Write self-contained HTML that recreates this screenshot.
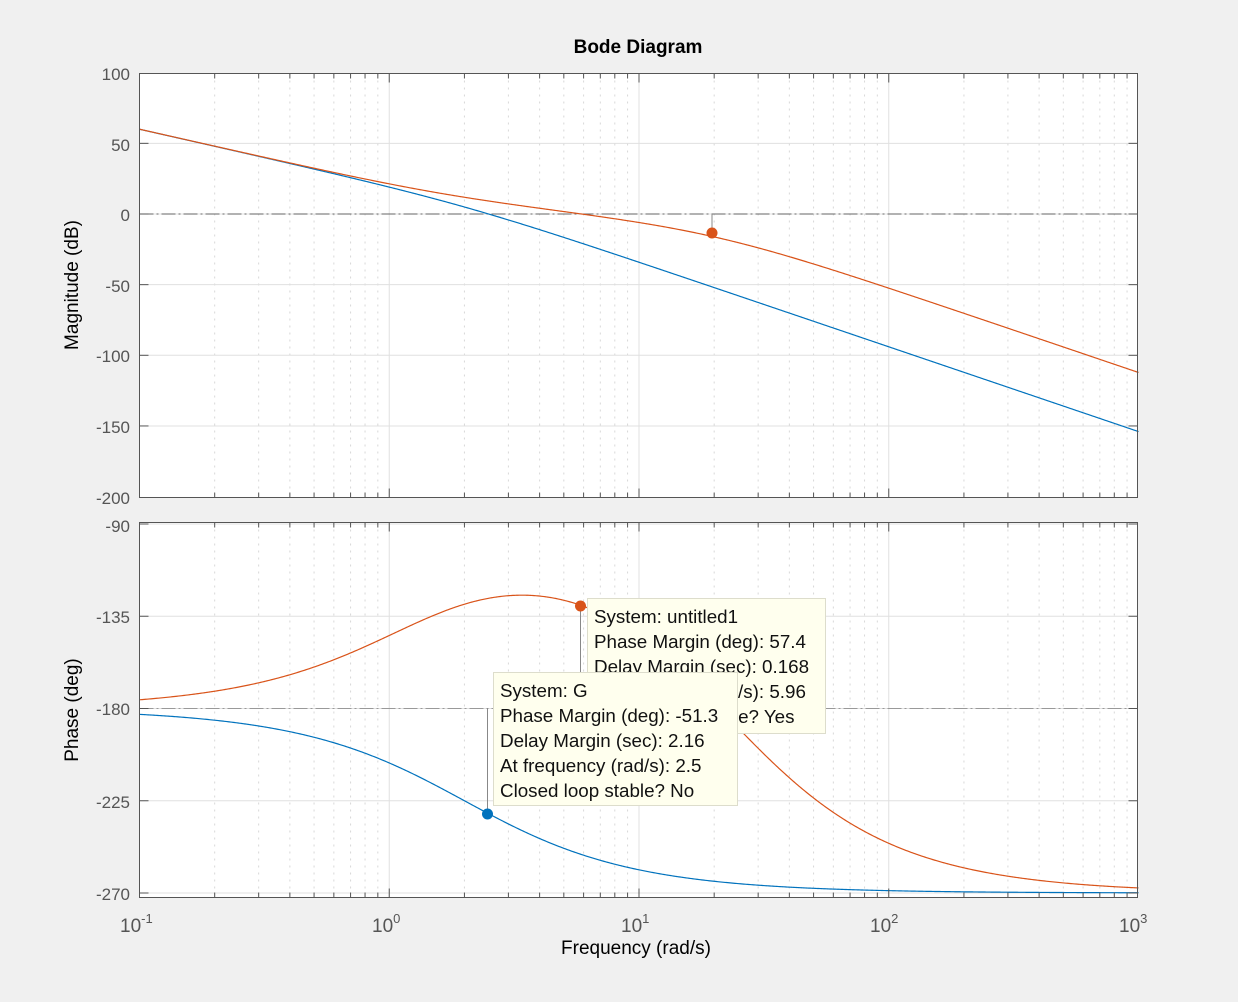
<!DOCTYPE html>
<html><head><meta charset="utf-8"><style>
html,body{margin:0;padding:0;background:#f0f0f0;}
svg{display:block;font-family:"Liberation Sans",Helvetica,sans-serif;}
</style></head><body>
<svg id="s" width="1238" height="1002" viewBox="0 0 1238 1002" xmlns="http://www.w3.org/2000/svg">
<rect x="0" y="0" width="1238" height="1002" fill="#f0f0f0"/>
<text x="638" y="53" text-anchor="middle" font-size="19" font-weight="bold" fill="#000">Bode Diagram</text>
<rect x="139.5" y="73.5" width="998" height="424" fill="#fff"/>
<rect x="139.5" y="522.5" width="998" height="375" fill="#fff"/>
<g id="grid"></g>
<g id="curves"></g>
<g id="ticks"></g>
<rect x="139.5" y="73.5" width="998" height="424" fill="none" stroke="#555" stroke-width="1"/>
<rect x="139.5" y="522.5" width="998" height="375" fill="none" stroke="#555" stroke-width="1"/>
<g font-size="17" fill="#555" text-anchor="end">
<text x="130" y="80">100</text><text x="130" y="151">50</text><text x="130" y="221">0</text>
<text x="130" y="292">-50</text><text x="130" y="362">-100</text><text x="130" y="433">-150</text><text x="130" y="504">-200</text>
<text x="130" y="532">-90</text><text x="130" y="623">-135</text><text x="130" y="715">-180</text>
<text x="130" y="808">-225</text><text x="130" y="900">-270</text>
</g>
<g font-size="19" fill="#555">
<text x="120" y="932">10<tspan font-size="13" dy="-9">-1</tspan></text>
<text x="372" y="932">10<tspan font-size="13" dy="-9">0</tspan></text>
<text x="621" y="932">10<tspan font-size="13" dy="-9">1</tspan></text>
<text x="870" y="932">10<tspan font-size="13" dy="-9">2</tspan></text>
<text x="1119" y="932">10<tspan font-size="13" dy="-9">3</tspan></text>
</g>
<text x="636" y="954" text-anchor="middle" font-size="19" fill="#000">Frequency  (rad/s)</text>
<text transform="translate(78,285) rotate(-90)" text-anchor="middle" font-size="19" fill="#000">Magnitude (dB)</text>
<text transform="translate(78,710) rotate(-90)" text-anchor="middle" font-size="19" fill="#000">Phase (deg)</text>
<g id="tips"></g>
</svg>
<script>
const NS="http://www.w3.org/2000/svg";
function el(p,t,a){const e=document.createElementNS(NS,t);for(const k in a)e.setAttribute(k,a[k]);p.appendChild(e);return e;}
const L=139.5,R=1137.5,D=249.75;
const X=w=>L+(Math.log10(w)+1)*D;
const YM=db=>214-db*1.413;
const YP=ph=>524+(-90-ph)*2.05;
const g=document.getElementById('grid'),c=document.getElementById('curves'),tk=document.getElementById('ticks'),tp=document.getElementById('tips');
for(let d=-1;d<3;d++)for(let m=1;m<10;m++){const x=X(m*Math.pow(10,d));
 for(const [y1,y2] of [[73.5,497.5],[522.5,897.5]]){
  if(m==1){el(g,'line',{x1:x,x2:x,y1,y2,stroke:'#e0e0e0','stroke-width':1});}
  else el(g,'line',{x1:x,x2:x,y1,y2,stroke:'#d8d8d8','stroke-width':1,'stroke-dasharray':'2,5'});
  el(tk,'line',{x1:x,x2:x,y1:y1,y2:y1+(m==1?9:5),stroke:'#555'});
  el(tk,'line',{x1:x,x2:x,y1:y2,y2:y2-(m==1?9:5),stroke:'#555'});
 }}
for(let db=-150;db<=50;db+=50){const y=YM(db);el(g,'line',{x1:L,x2:R,y1:y,y2:y,stroke:'#e0e0e0'});
 el(tk,'line',{x1:L,x2:L+9,y1:y,y2:y,stroke:'#555'});el(tk,'line',{x1:R,x2:R-9,y1:y,y2:y,stroke:'#555'});}
for(let ph=-90;ph>=-270;ph-=45){const y=YP(ph);el(g,'line',{x1:L,x2:R,y1:y,y2:y,stroke:'#e0e0e0'});
 el(tk,'line',{x1:L,x2:L+9,y1:y,y2:y,stroke:'#555'});el(tk,'line',{x1:R,x2:R-9,y1:y,y2:y,stroke:'#555'});}
el(g,'line',{x1:L,x2:R,y1:YM(0),y2:YM(0),stroke:'#666','stroke-dasharray':'14,3,2,3'});
el(g,'line',{x1:L,x2:R,y1:YP(-180),y2:YP(-180),stroke:'#999','stroke-dasharray':'14,3,2,3'});
const z=1.8,p=20,k=(p/z)*(p/z),zp=1.5,pp=22;
function G(w){return {m:20*Math.log10(20/(w*w*Math.sqrt(w*w+4))),ph:-180-Math.atan(w/2)*180/Math.PI};}
function O(w){const b=G(w);const cm=20*Math.log10(k*(w*w+z*z)/(w*w+p*p));const cp=2*(Math.atan(w/zp)-Math.atan(w/pp))*180/Math.PI;return {m:b.m+cm,ph:b.ph+cp};}
function path(f,key,Y,col){let d='';for(let i=0;i<=800;i++){const w=Math.pow(10,-1+4*i/800);const v=f(w)[key];d+=(i?'L':'M')+X(w).toFixed(2)+','+Y(v).toFixed(2);}el(c,'path',{d,fill:'none',stroke:col,'stroke-width':1.2});}
const B='#0072bd',OR='#d95319';
path(G,'m',YM,B);path(O,'m',YM,OR);path(G,'ph',YP,B);path(O,'ph',YP,OR);
el(tp,'line',{x1:712,x2:712,y1:214,y2:233,stroke:'#888'});
el(tp,'circle',{cx:712,cy:233,r:5.5,fill:OR});
const oy=YP(O(5.96).ph);
el(tp,'line',{x1:580.5,x2:580.5,y1:oy,y2:708,stroke:'#888'});
el(tp,'line',{x1:487.5,x2:487.5,y1:708,y2:814,stroke:'#888'});
function tip(x,y,w,h,lines){el(tp,'rect',{x:x+0.5,y:y+0.5,width:w,height:h,fill:'#ffffee',stroke:'#ddddcc'});
 lines.forEach((t,i)=>{const e=el(tp,'text',{x:x+7,y:y+25+i*25,'font-size':18.8,fill:'#111'});e.textContent=t;});}
el(tp,'circle',{cx:580.5,cy:oy,r:5.5,fill:OR});
tip(587,598,238,135,['System: untitled1','Phase Margin (deg): 57.4','Delay Margin (sec): 0.168','At frequency (rad/s): 5.96','Closed loop stable? Yes']);
tip(493,672,244,133,['System: G','Phase Margin (deg): -51.3','Delay Margin (sec): 2.16','At frequency (rad/s): 2.5','Closed loop stable? No']);
el(tp,'circle',{cx:487.5,cy:814,r:5.5,fill:B});
</script>
</body></html>
